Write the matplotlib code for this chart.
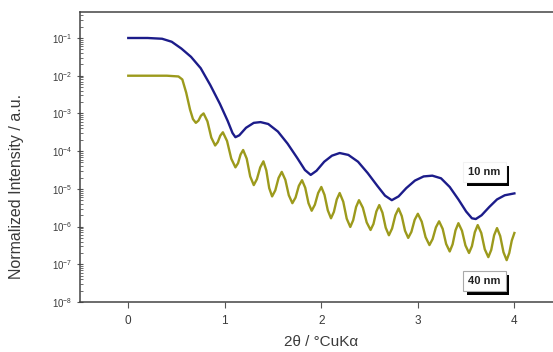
import matplotlib
matplotlib.use("Agg")
import matplotlib.pyplot as plt
import matplotlib.patheffects as pe
import numpy as np

plt.rcParams["font.family"] = ["Liberation Sans", "DejaVu Sans"]
plt.rcParams["mathtext.fontset"] = "custom"
plt.rcParams["mathtext.rm"] = "Liberation Sans"

# 10 nm film (blue): angle and log10 of normalized intensity
blue_x = [0.00, 0.20, 0.35, 0.45, 0.55, 0.65, 0.75, 0.85, 0.95, 1.03, 1.08, 1.11,
          1.15, 1.22, 1.30, 1.37, 1.45, 1.55, 1.65, 1.75, 1.83, 1.89, 1.95, 2.03,
          2.11, 2.19, 2.28, 2.38, 2.48, 2.58, 2.66, 2.73, 2.80, 2.88, 2.97, 3.06,
          3.15, 3.24, 3.33, 3.42, 3.50, 3.56, 3.60, 3.66, 3.74, 3.82, 3.90, 4.00]
blue_log = [-1.00, -1.00, -1.02, -1.10, -1.28, -1.50, -1.80, -2.25, -2.75, -3.20, -3.52, -3.63,
            -3.58, -3.38, -3.25, -3.23, -3.28, -3.48, -3.80, -4.18, -4.50, -4.63, -4.52, -4.28,
            -4.12, -4.05, -4.10, -4.28, -4.58, -4.92, -5.18, -5.30, -5.20, -4.98, -4.78, -4.67,
            -4.65, -4.72, -4.95, -5.28, -5.60, -5.78, -5.80, -5.70, -5.48, -5.28, -5.17, -5.12]

# 40 nm film (olive)
olive_x = [0.00, 0.40, 0.52, 0.56, 0.60, 0.64, 0.67, 0.70,
           0.727, 0.753, 0.78, 0.82, 0.86, 0.90,
           0.927, 0.953, 0.98, 1.023, 1.067, 1.11,
           1.137, 1.163, 1.19, 1.227, 1.263, 1.30,
           1.333, 1.367, 1.40, 1.43, 1.46, 1.49,
           1.523, 1.557, 1.59, 1.627, 1.663, 1.70,
           1.733, 1.767, 1.80, 1.833, 1.867, 1.90,
           1.933, 1.967, 2.00, 2.033, 2.067, 2.10,
           2.13, 2.16, 2.19, 2.227, 2.263, 2.30,
           2.33, 2.36, 2.39, 2.43, 2.47, 2.51,
           2.54, 2.57, 2.60, 2.633, 2.667, 2.70,
           2.733, 2.767, 2.80, 2.833, 2.867, 2.90,
           2.933, 2.967, 3.00, 3.04, 3.08, 3.12,
           3.153, 3.187, 3.22, 3.257, 3.293, 3.33,
           3.36, 3.39, 3.42, 3.457, 3.493, 3.53,
           3.56, 3.59, 3.62, 3.657, 3.693, 3.73,
           3.76, 3.79, 3.82, 3.853, 3.887, 3.92,
           3.947, 3.973, 4.00]
olive_log = [-2.00, -2.00, -2.02, -2.10, -2.45, -2.90, -3.15, -3.25,
             -3.19, -3.06, -3.00, -3.21, -3.64, -3.85,
             -3.76, -3.59, -3.50, -3.73, -4.20, -4.43,
             -4.32, -4.09, -3.97, -4.20, -4.67, -4.90,
             -4.74, -4.43, -4.27, -4.51, -4.98, -5.20,
             -5.04, -4.71, -4.55, -4.76, -5.17, -5.38,
             -5.23, -4.92, -4.77, -4.97, -5.38, -5.58,
             -5.42, -5.11, -4.95, -5.16, -5.57, -5.78,
             -5.61, -5.28, -5.11, -5.34, -5.79, -6.01,
             -5.83, -5.48, -5.30, -5.50, -5.89, -6.09,
             -5.93, -5.60, -5.43, -5.63, -6.03, -6.23,
             -6.05, -5.70, -5.52, -5.72, -6.11, -6.30,
             -6.14, -5.82, -5.66, -5.87, -6.28, -6.49,
             -6.33, -6.02, -5.86, -6.06, -6.46, -6.66,
             -6.47, -6.10, -5.91, -6.11, -6.50, -6.70,
             -6.52, -6.15, -5.96, -6.17, -6.60, -6.81,
             -6.62, -6.23, -6.04, -6.25, -6.68, -6.89,
             -6.70, -6.37, -6.17]

x_ticks = [0, 1, 2, 3, 4]
y_exponents = [-8, -7, -6, -5, -4, -3, -2, -1]

text_color = "#3a3a3a"

fig = plt.figure(figsize=(5.53, 3.52), dpi=100)
ax = fig.add_axes([0.1447, 0.142, 0.8553, 0.824])

ax.plot(blue_x, 10 ** np.array(blue_log), color="#1c1c8a", lw=1.7)
ax.plot(olive_x, 10 ** np.array(olive_log), color="#9c9a1c", lw=1.7)

ax.set_yscale("log")
ax.set_xlim(-0.5, 4.4)
ax.set_ylim(1e-8, 10 ** -0.31)

ax.set_xticks(x_ticks)
ax.set_xticklabels([str(t) for t in x_ticks], fontsize=8.5, color=text_color)
ax.set_yticks([10.0 ** e for e in y_exponents])
ax.set_yticklabels([f"$10^{{{e}}}$" for e in y_exponents], fontsize=7, color=text_color)
ax.yaxis.set_minor_locator(matplotlib.ticker.LogLocator(base=10, subs=np.arange(2, 10)))
ax.yaxis.set_minor_formatter(matplotlib.ticker.NullFormatter())

ax.tick_params(axis="x", direction="out", length=4, width=0.8, colors="#555555",
               labelcolor=text_color, pad=5)
ax.tick_params(axis="y", which="major", direction="inout", length=5, width=0.8,
               colors="#555555", labelcolor=text_color, pad=3)
ax.tick_params(axis="y", which="minor", direction="in", length=2, width=0.6, colors="#555555")

for side in ("top", "bottom", "left"):
    ax.spines[side].set_linewidth(1.1)
    ax.spines[side].set_color("#444444")
ax.spines["right"].set_visible(False)

ax.set_xlabel("2θ / °CuKα", fontsize=11, color=text_color)
ax.xaxis.set_label_coords(0.51, -0.115)
ax.set_ylabel("Normalized Intensity / a.u.", fontsize=11.5, color=text_color)
ax.yaxis.set_label_coords(-0.118, 0.397)

# thickness labels with drop-shadow boxes
shadow = [pe.SimplePatchShadow(offset=(2.5, -2.5), shadow_rgbFace="black", alpha=1.0),
          pe.Normal()]
for label, yfrac, edge in [("10 nm", 0.448, "#f2f2f2"), ("40 nm", 0.072, "#aaaaaa")]:
    t = ax.text(0.855, yfrac, label, transform=ax.transAxes, ha="center", va="center",
                fontsize=8, fontweight="bold", color="#222222",
                bbox=dict(boxstyle="square,pad=0.45", fc="white", ec=edge, lw=0.8))
    t.get_bbox_patch().set_path_effects(shadow)

fig.savefig("out.png", dpi=100)
